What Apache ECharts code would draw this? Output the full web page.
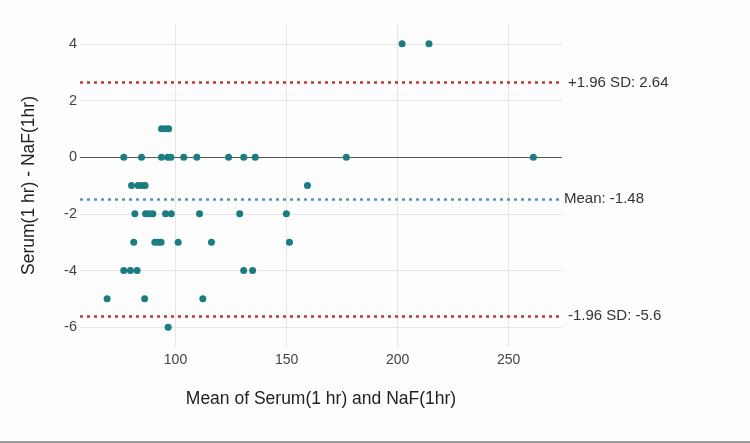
<!DOCTYPE html>
<html>
<head>
<meta charset="utf-8">
<script src="https://cdn.jsdelivr.net/npm/echarts@6/dist/echarts.min.js"></script>
<style>
  html, body { margin: 0; padding: 0; background: #fdfdfd; }
  #chart { width: 750px; height: 443px; }
</style>
</head>
<body>
<div id="chart"></div>
<script>
  // Bland-Altman: mean of the two methods vs. their difference
  const meanVals = [
    202.0, 214.1,
    93.7, 95.5, 96.9,
    76.7, 84.7, 93.7, 96.5, 97.9, 103.7, 109.6, 123.9, 130.7, 135.9, 176.9, 261.1,
    80.2, 83.2, 84.8, 86.3, 159.4,
    81.7, 86.5, 88.0, 89.8, 95.5, 98.1, 110.8, 128.9, 149.9,
    81.2, 90.7, 92.2, 93.5, 101.2, 116.2, 151.3,
    76.7, 79.7, 82.7, 130.7, 134.7,
    69.2, 86.1, 112.3,
    96.7
  ]
  const diffVals = [
    4, 4,
    1, 1, 1,
    0, 0, 0, 0, 0, 0, 0, 0, 0, 0, 0, 0,
    -1, -1, -1, -1, -1,
    -2, -2, -2, -2, -2, -2, -2, -2, -2,
    -3, -3, -3, -3, -3, -3, -3,
    -4, -4, -4, -4, -4,
    -5, -5, -5,
    -6
  ]
  const upperLoa = 2.64
  const meanDiff = -1.48
  const lowerLoa = -5.6
  const xTicks = [100, 150, 200, 250]
  const yTicks = [-6, -4, -2, 0, 2, 4]

  const font = '"Liberation Sans", Arial, sans-serif'
  const chart = echarts.init(document.getElementById('chart'))

  chart.setOption({
    backgroundColor: '#fdfdfd',
    animation: false,
    grid: { left: 80, right: 188, top: 24, bottom: 96 },
    xAxis: {
      type: 'value',
      min: 57,
      max: 274,
      name: 'Mean of Serum(1 hr) and NaF(1hr)',
      nameLocation: 'middle',
      nameGap: 43,
      nameTextStyle: { fontFamily: font, fontSize: 17.5, color: '#222' },
      axisLine: { show: false },
      axisTick: { show: false, customValues: xTicks },
      axisLabel: { customValues: xTicks, fontFamily: font, fontSize: 14, color: '#444', margin: 6 },
      splitLine: { show: true, lineStyle: { color: '#e6e6e6', width: 1 } }
    },
    yAxis: {
      type: 'value',
      min: -6.7,
      max: 4.7,
      name: 'Serum(1 hr) - NaF(1hr)',
      nameLocation: 'middle',
      nameGap: 42,
      nameTextStyle: { fontFamily: font, fontSize: 17.5, color: '#222' },
      axisLine: { show: false },
      axisTick: { show: false, customValues: yTicks },
      axisLabel: { customValues: yTicks, fontFamily: font, fontSize: 14.5, color: '#444', margin: 3 },
      splitLine: { show: true, lineStyle: { color: '#e6e6e6', width: 1 } }
    },
    series: [
      {
        type: 'scatter',
        symbolSize: 7,
        itemStyle: { color: '#1b7d80', opacity: 1 },
        data: meanVals.map((m, i) => [m, diffVals[i]]),
        z: 5,
        markLine: {
          silent: true,
          symbol: 'none',
          animation: false,
          label: { fontFamily: font, fontSize: 15, color: '#333', position: 'end' },
          data: [
            { yAxis: 0, lineStyle: { color: '#555', width: 1, type: 'solid' }, label: { show: false } },
            {
              yAxis: upperLoa,
              lineStyle: { color: '#b83a30', width: 2.5, type: [3, 4] },
              label: { formatter: '+1.96 SD: ' + upperLoa, distance: 6 }
            },
            {
              yAxis: meanDiff,
              lineStyle: { color: '#4f9bb0', width: 2.5, type: [3, 4] },
              label: { formatter: 'Mean: ' + meanDiff, distance: 2 }
            },
            {
              yAxis: lowerLoa,
              lineStyle: { color: '#b83a30', width: 2.5, type: [3, 4] },
              label: { formatter: '-1.96 SD: ' + lowerLoa, distance: 6 }
            }
          ]
        }
      }
    ],
    graphic: [
      { type: 'rect', left: 0, bottom: 0, shape: { width: 750, height: 2 }, style: { fill: '#9a9a9a' } }
    ]
  })
</script>
</body>
</html>
